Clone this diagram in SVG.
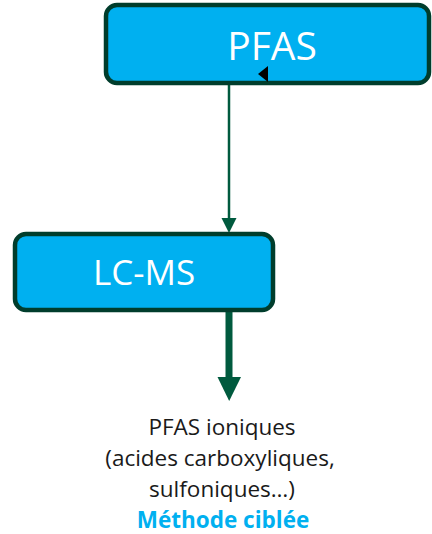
<svg xmlns="http://www.w3.org/2000/svg" width="432" height="534" viewBox="0 0 432 534">
<style>
.box{fill:#00B0F0;stroke:#003D2C;stroke-width:4.5}
.lbl{font-family:"Open Sans","Liberation Sans",sans-serif;fill:#FFFFFF;text-anchor:middle}
.note{font-family:"Open Sans","Liberation Sans",sans-serif;font-size:22.5px;fill:#1A1A1A;text-anchor:middle}
.accent{font-weight:bold;fill:#00B0F0}
</style>
<g id="connectors">
<line x1="229" y1="85" x2="229" y2="218" stroke="#005A3E" stroke-width="2.5"/>
<path d="M221.5,218 L236.5,218 L229,233 Z" fill="#005A3E"/>
<line x1="229" y1="312" x2="229" y2="378" stroke="#005A3E" stroke-width="7"/>
<path d="M217.5,377 L241,377 L229.2,401 Z" fill="#005A3E"/>
</g>
<g id="pfas">
<rect class="box" x="106" y="5" width="323" height="78" rx="11"/>
<text class="lbl" x="272" y="60" font-size="39">PFAS</text>
<path d="M268,66 L268,82 L258,74 Z" fill="#000000"/>
</g>
<g id="lcms">
<rect class="box" x="15" y="234" width="258" height="76" rx="11"/>
<text class="lbl" x="144" y="285" font-size="35">LC-MS</text>
</g>
<g id="result">
<text class="note" x="222" y="435">PFAS ioniques</text>
<text class="note" x="220" y="466">(acides carboxyliques,</text>
<text class="note" x="222" y="497">sulfoniques…)</text>
<text class="note accent" x="223" y="528">Méthode ciblée</text>
</g>
</svg>
